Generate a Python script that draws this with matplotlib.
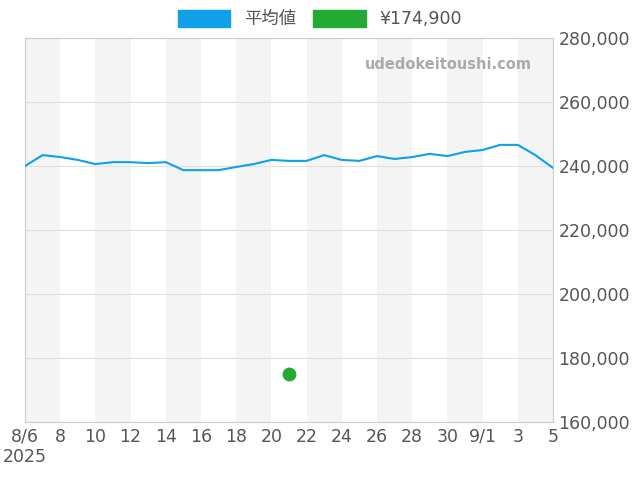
import matplotlib
matplotlib.use("Agg")
import matplotlib.pyplot as plt
from matplotlib.patches import Patch

plt.rcParams['font.family'] = ['DejaVu Sans', 'Noto Sans CJK JP']

days = list(range(31))  # 8/6 .. 9/5
avg = [240000, 243400, 242800, 241900, 240600, 241200, 241200, 240900, 241200, 238700,
       238700, 238700, 239700, 240600, 241900, 241600, 241600, 243400, 241900, 241600,
       243100, 242200, 242800, 243800, 243100, 244400, 245000, 246600, 246600, 243400, 239400]
point_x = [15]
point_y = [174900]
tick_pos = list(range(0, 31, 2))
tick_labels = ["8/6\n2025", "8", "10", "12", "14", "16", "18", "20", "22", "24", "26", "28", "30", "9/1", "3", "5"]
yticks = [160000, 180000, 200000, 220000, 240000, 260000, 280000]

fig = plt.figure(figsize=(6.4, 4.8), dpi=100)
ax = fig.add_axes([25/640, 1-422/480, 528/640, 384/480])
for s in range(0, 30, 4):
    ax.axvspan(s, s+2, color='#f4f4f4', lw=0, zorder=0)
ax.plot(days, avg, color='#0ea0e8', lw=1.5, zorder=3)
ax.scatter(point_x, point_y, color='#22aa33', s=80, zorder=4)
ax.set_xlim(0, 30)
ax.set_ylim(160000, 280000)
ax.set_xticks(tick_pos)
ax.set_xticklabels(tick_labels)
ax.set_yticks(yticks)
ax.set_yticklabels([f"{v:,}" for v in yticks])
ax.yaxis.tick_right()
ax.tick_params(axis='both', length=0, labelsize=12.5, colors='#555555', pad=4)
ax.grid(axis='y', color='#e0e0e0', lw=0.8, zorder=1)
for sp in ax.spines.values():
    sp.set_color('#cccccc')
ax.text(0.96, 0.93, "udedokeitoushi.com", transform=ax.transAxes, ha='right', va='center',
        fontsize=10.5, color='#aaaaaa', fontweight='bold')
handles = [Patch(color='#0ea0e8', label='平均値'), Patch(color='#22aa33', label='¥174,900')]
fig.legend(handles=handles, loc='center', bbox_to_anchor=(0.5, 1-19/480), ncol=2, frameon=False,
           fontsize=12.5, handlelength=3, handleheight=1.2, columnspacing=1, labelcolor='#555555')
fig.savefig("out.png", dpi=100)
